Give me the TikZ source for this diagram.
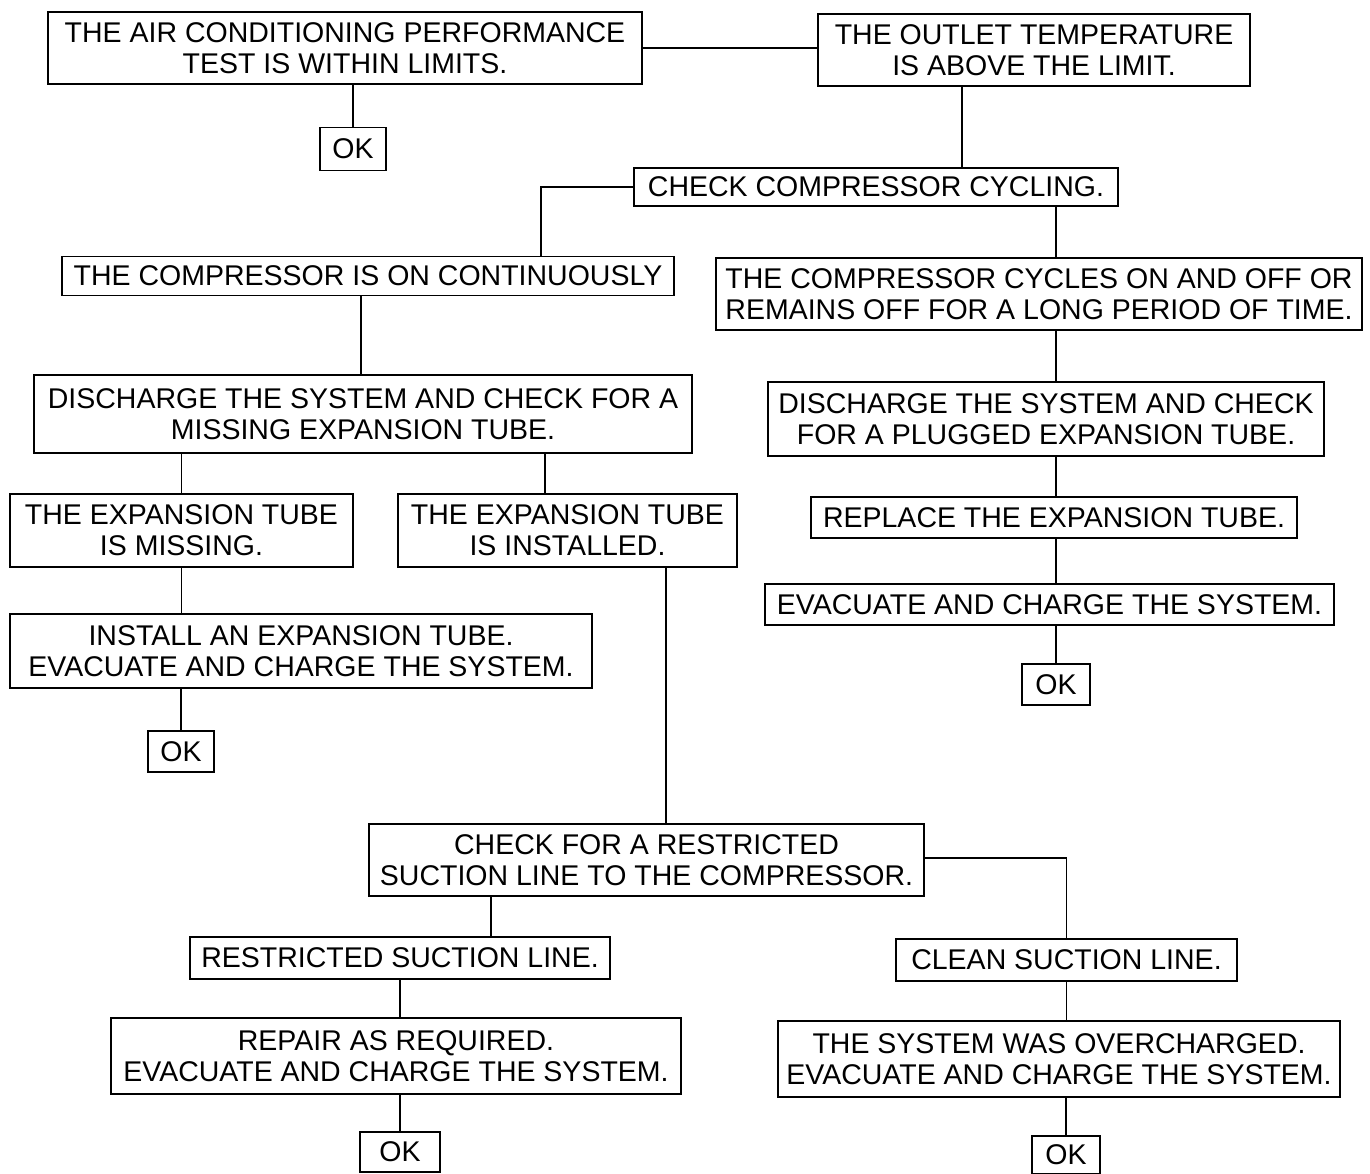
\documentclass[tikz,border=0pt]{standalone}
\usepackage{fontspec}
\setmainfont{Liberation Sans}
\begin{document}
\begin{tikzpicture}[x=1pt,y=-1pt,
  box/.style={draw,line width=1.8pt,inner sep=0pt,align=center,font=\fontsize{28.5}{31}\selectfont},
  conn/.style={line width=1.8pt}]
\useasboundingbox (0,0) rectangle (1370,1174);
\fill[white] (0,0) rectangle (1370,1174);
% nodes
\node[box,minimum width=594,minimum height=72] (b1) at (345,48) {THE AIR CONDITIONING PERFORMANCE\\TEST IS WITHIN LIMITS.};
\node[box,minimum width=432,minimum height=72] (b2) at (1034,50) {THE OUTLET TEMPERATURE\\IS ABOVE THE LIMIT.};
\node[box,minimum width=66,minimum height=43] (ok1) at (353,149) {OK};
\node[box,minimum width=484,minimum height=38] (b4) at (876,187) {CHECK COMPRESSOR CYCLING.};
\node[box,minimum width=612,minimum height=39] (b6) at (368,276) {THE COMPRESSOR IS ON CONTINUOUSLY};
\node[box,minimum width=646,minimum height=72] (b7) at (1039,294) {THE COMPRESSOR CYCLES ON AND OFF OR\\REMAINS OFF FOR A LONG PERIOD OF TIME.};
\node[box,minimum width=658,minimum height=78] (b9) at (363,414) {DISCHARGE THE SYSTEM AND CHECK FOR A\\MISSING EXPANSION TUBE.};
\node[box,minimum width=343,minimum height=73] (b10) at (181.5,530.5) {THE EXPANSION TUBE\\IS MISSING.};
\node[box,minimum width=339,minimum height=73] (b11) at (567.5,530.5) {THE EXPANSION TUBE\\IS INSTALLED.};
\node[box,minimum width=582,minimum height=74] (b12) at (301,651) {INSTALL AN EXPANSION TUBE.\\EVACUATE AND CHARGE THE SYSTEM.};
\node[box,minimum width=66,minimum height=41] (ok2) at (181,751.5) {OK};
\node[box,minimum width=556,minimum height=74] (b14) at (1046,419) {DISCHARGE THE SYSTEM AND CHECK\\FOR A PLUGGED EXPANSION TUBE.};
\node[box,minimum width=486,minimum height=41] (b15) at (1054,517.5) {REPLACE THE EXPANSION TUBE.};
\node[box,minimum width=569,minimum height=41] (b16) at (1049.5,604.5) {EVACUATE AND CHARGE THE SYSTEM.};
\node[box,minimum width=68,minimum height=41] (ok3) at (1056,684.5) {OK};
\node[box,minimum width=555,minimum height=72] (b18) at (646.5,860) {CHECK FOR A RESTRICTED\\SUCTION LINE TO THE COMPRESSOR.};
\node[box,minimum width=341,minimum height=42] (b19) at (1066.5,960) {CLEAN SUCTION LINE.};
\node[box,minimum width=420,minimum height=42] (b20) at (400,958) {RESTRICTED SUCTION LINE.};
\node[box,minimum width=570,minimum height=76] (b21) at (396,1056) {REPAIR AS REQUIRED.\\EVACUATE AND CHARGE THE SYSTEM.};
\node[box,minimum width=80,minimum height=40] (ok4) at (400,1152) {OK};
\node[box,minimum width=562,minimum height=76] (b23) at (1059,1059) {THE SYSTEM WAS OVERCHARGED.\\EVACUATE AND CHARGE THE SYSTEM.};
\node[box,minimum width=68,minimum height=38] (ok5) at (1066,1155) {OK};
% connector coordinates
\coordinate (x962) at (962,0);
\coordinate (x541) at (541,0);
\coordinate (x1056) at (1056,0);
\coordinate (x361) at (361,0);
\coordinate (x545) at (545,0);
\coordinate (x666) at (666,0);
\coordinate (x491) at (491,0);
\coordinate (y858) at (0,858);
% connectors
\draw[conn] (b1.east) -- (b1.east -| b2.west);
\draw[conn] (ok1.north |- b1.south) -- (ok1.north);
\draw[conn] (b2.south -| x962) -- (b4.north -| x962);
\draw[conn] (b4.west) -| (b6.north -| x541);
\draw[conn] (b4.south -| x1056) -- (b7.north -| x1056);
\draw[conn] (b6.south -| x361) -- (b9.north -| x361);
\draw[conn] (b9.south -| b10.north) -- (b10.north);
\draw[conn] (b9.south -| x545) -- (b11.north -| x545);
\draw[conn] (b10.south) -- (b12.north -| b10.south);
\draw[conn] (b12.south -| ok2.north) -- (ok2.north);
\draw[conn] (b7.south -| x1056) -- (b14.north -| x1056);
\draw[conn] (b14.south -| x1056) -- (b15.north -| x1056);
\draw[conn] (b15.south -| x1056) -- (b16.north -| x1056);
\draw[conn] (b16.south -| ok3.north) -- (ok3.north);
\draw[conn] (b11.south -| x666) -- (b18.north -| x666);
\draw[conn] (b18.east |- y858) -| (b19.north);
\draw[conn] (b18.south -| x491) -- (b20.north -| x491);
\draw[conn] (b20.south) -- (b21.north -| b20.south);
\draw[conn] (b21.south -| ok4.north) -- (ok4.north);
\draw[conn] (b19.south) -- (b23.north -| b19.south);
\draw[conn] (b23.south -| ok5.north) -- (ok5.north);
\end{tikzpicture}
\end{document}
